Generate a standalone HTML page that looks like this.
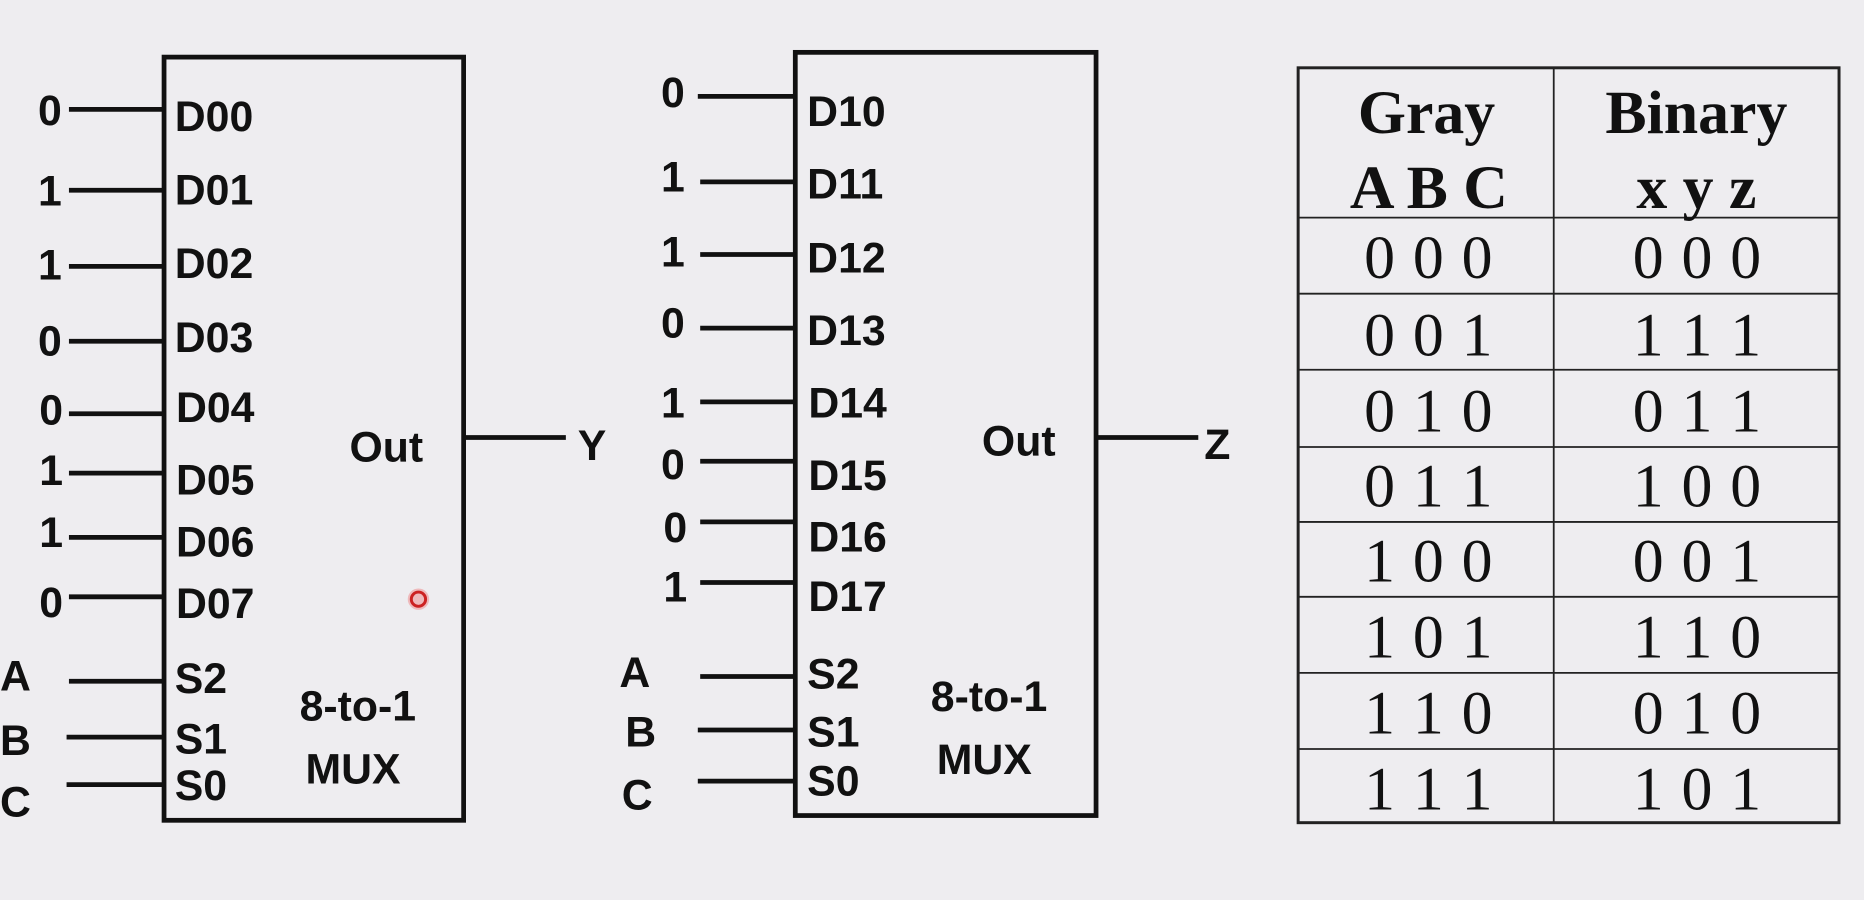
<!DOCTYPE html>
<html><head><meta charset="utf-8"><style>
html,body{margin:0;padding:0;background:#eeedf0;}
svg{display:block}
.s{font-family:"Liberation Sans",sans-serif;font-weight:bold;font-size:36px;fill:#111}
.t{font-family:"Liberation Serif",serif;font-size:52px;fill:#111;letter-spacing:1px}
.h{font-family:"Liberation Serif",serif;font-weight:bold;font-size:52px;fill:#111}
</style></head><body>
<svg width="1864" height="900" viewBox="0 0 1568 757" xmlns="http://www.w3.org/2000/svg">
<rect width="1568" height="757" fill="#eeedf0"/>
<g stroke="#111" stroke-width="4" fill="none">
<rect x="138" y="48" width="252" height="642"/>
<rect x="669" y="44" width="253" height="642"/>
<path d="M58 92H138M58 160H138M58 224H138M58 287H138M58 348H138M58 398H138M58 452H138M58 502H138M58 573H138M56 620H138M56 660H138M390 368H476"/>
<path d="M587 81H669M589 153H669M589 214H669M589 276H669M589 338H669M589 388H669M589 439H669M589 490H669M589 569H669M587 614H669M587 657H669M922 368H1008"/>
</g>
<g class="s">
<text x="32" y="105">0</text><text x="32" y="173">1</text><text x="32" y="235">1</text><text x="32" y="299">0</text><text x="33" y="357">0</text><text x="33" y="408">1</text><text x="33" y="460">1</text><text x="33" y="519">0</text>
<text x="147" y="110">D00</text><text x="147" y="172">D01</text><text x="147" y="234">D02</text><text x="147" y="296">D03</text><text x="148" y="355">D04</text><text x="148" y="416">D05</text><text x="148" y="468">D06</text><text x="148" y="520">D07</text>
<text x="147" y="583">S2</text><text x="147" y="634">S1</text><text x="147" y="673">S0</text>
<text x="294" y="388">Out</text><text x="486" y="387">Y</text>
<text x="252" y="606">8-to-1</text><text x="257" y="659">MUX</text>
<text x="0" y="581">A</text><text x="0" y="635">B</text><text x="0" y="687">C</text>
<text x="556" y="90">0</text><text x="556" y="161">1</text><text x="556" y="224">1</text><text x="556" y="284">0</text><text x="556" y="351">1</text><text x="556" y="403">0</text><text x="558" y="456">0</text><text x="558" y="506">1</text>
<text x="679" y="106">D10</text><text x="679" y="167">D11</text><text x="679" y="229">D12</text><text x="679" y="290">D13</text><text x="680" y="351">D14</text><text x="680" y="412">D15</text><text x="680" y="464">D16</text><text x="680" y="514">D17</text>
<text x="679" y="579">S2</text><text x="679" y="628">S1</text><text x="679" y="669">S0</text>
<text x="826" y="383">Out</text><text x="1013" y="386">Z</text>
<text x="783" y="598">8-to-1</text><text x="788" y="651">MUX</text>
<text x="521" y="578">A</text><text x="526" y="628">B</text><text x="523" y="681">C</text>
</g>
<circle cx="352" cy="504" r="9" fill="#e88" opacity="0.5"/>
<circle cx="352" cy="504" r="6" fill="none" stroke="#c22" stroke-width="2.5"/>
<g stroke="#222" fill="none">
<rect x="1092" y="57" width="455" height="635" stroke-width="2.5"/>
<path stroke-width="1.5" d="M1307 57V692M1092 183H1547M1092 247H1547M1092 311H1547M1092 376H1547M1092 439H1547M1092 502H1547M1092 566H1547M1092 630H1547"/>
</g>
<g class="h" text-anchor="middle">
<text x="1200" y="112">Gray</text><text x="1202" y="175">A B C</text>
<text x="1427" y="112">Binary</text><text x="1427" y="175">x y z</text>
</g>
<g class="t" text-anchor="middle">
<text x="1202" y="234">0 0 0</text><text x="1428" y="234">0 0 0</text>
<text x="1202" y="299">0 0 1</text><text x="1428" y="299">1 1 1</text>
<text x="1202" y="363">0 1 0</text><text x="1428" y="363">0 1 1</text>
<text x="1202" y="426">0 1 1</text><text x="1428" y="426">1 0 0</text>
<text x="1202" y="489">1 0 0</text><text x="1428" y="489">0 0 1</text>
<text x="1202" y="553">1 0 1</text><text x="1428" y="553">1 1 0</text>
<text x="1202" y="617">1 1 0</text><text x="1428" y="617">0 1 0</text>
<text x="1202" y="681">1 1 1</text><text x="1428" y="681">1 0 1</text>
</g>
</svg>
</body></html>
